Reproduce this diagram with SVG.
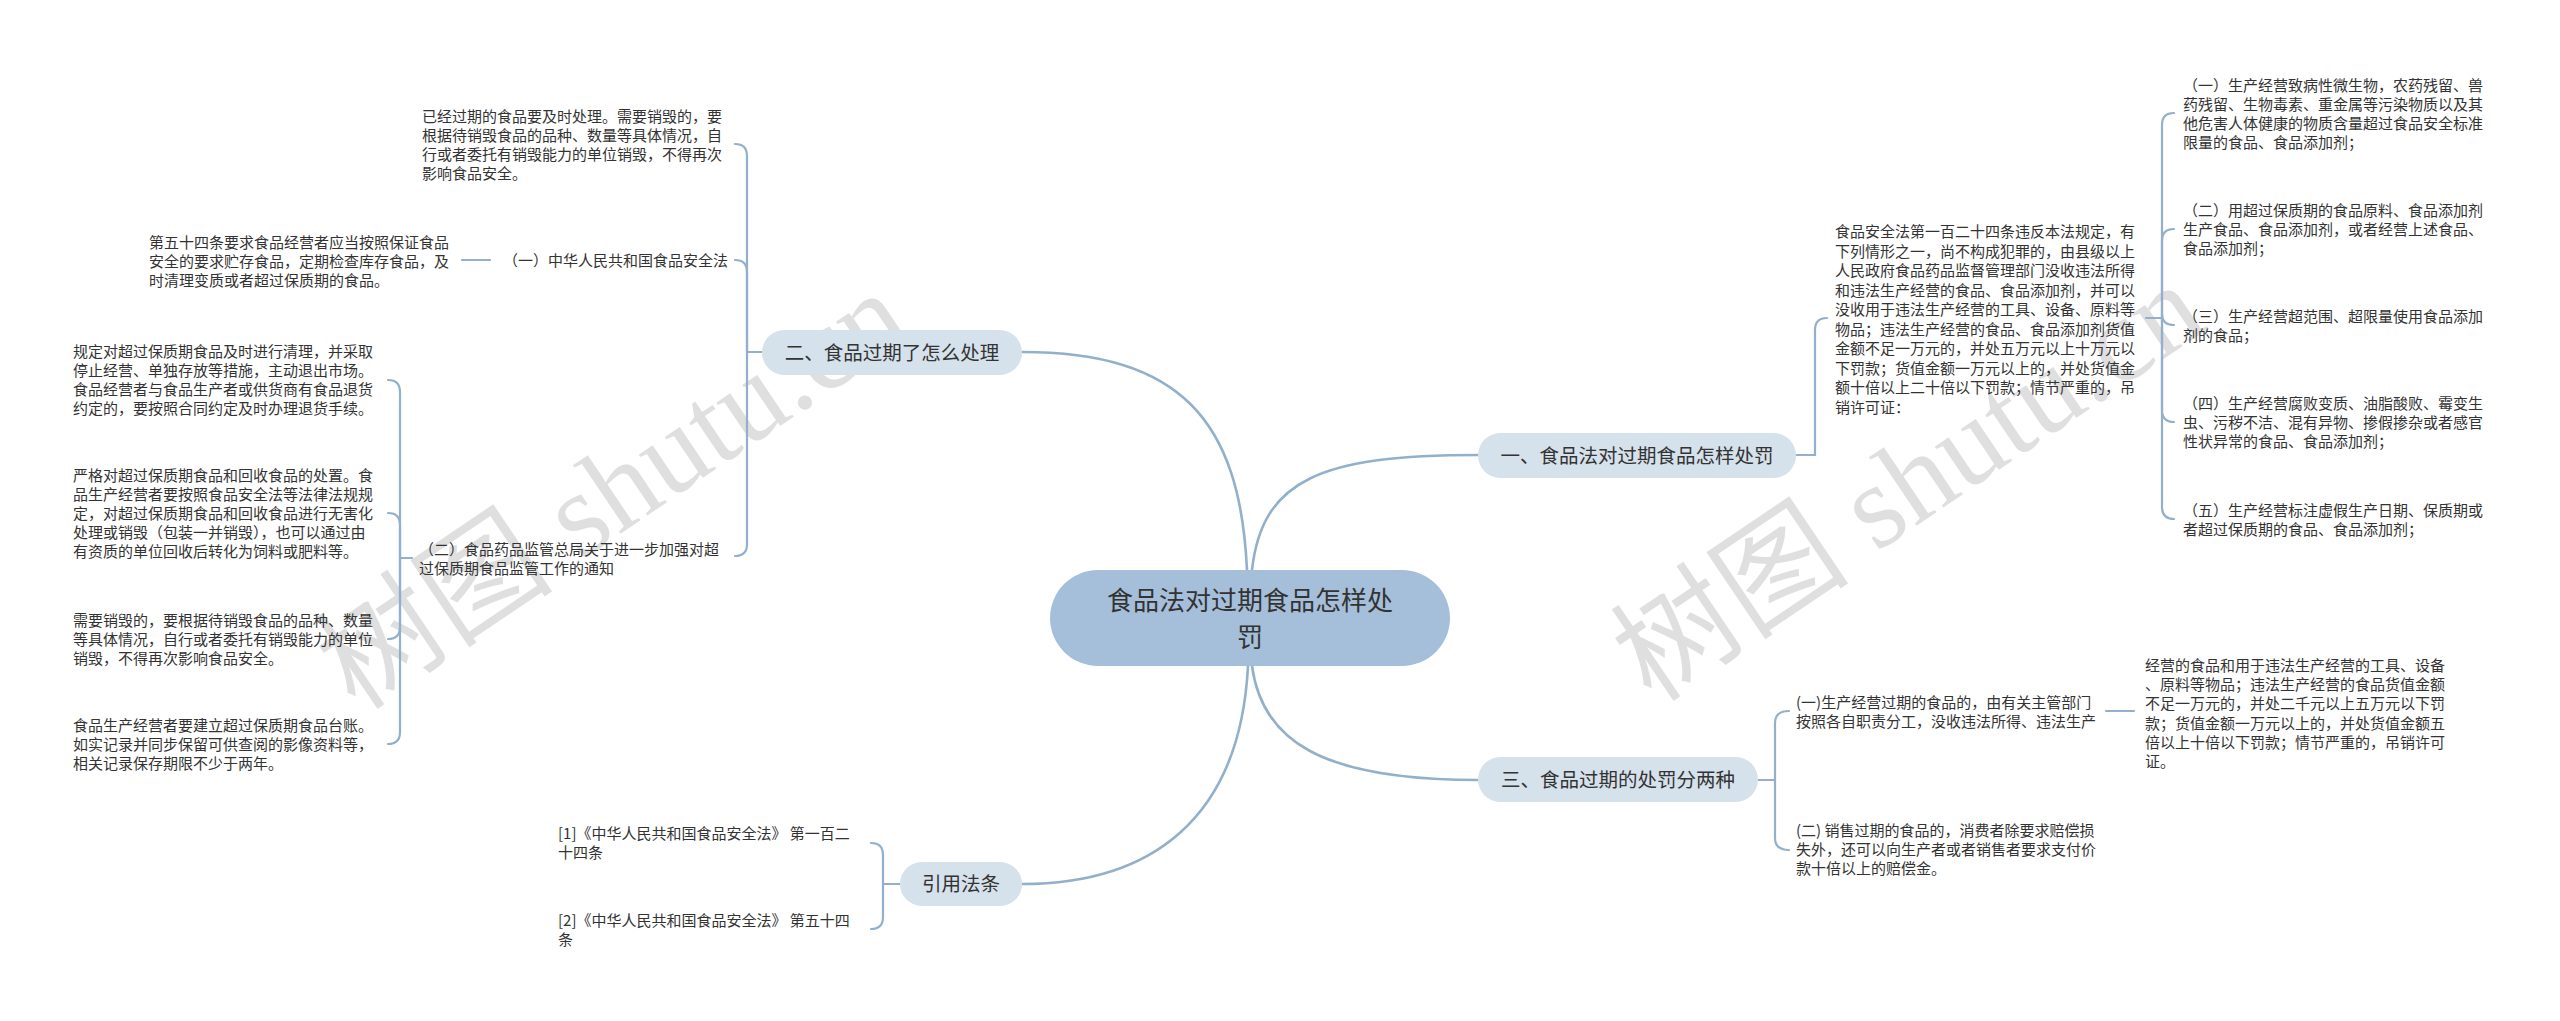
<svg xmlns="http://www.w3.org/2000/svg" width="2560" height="1021" viewBox="0 0 2560 1021">
<style>
.t{font-family:"Noto Sans CJK SC","Noto Sans",sans-serif;font-size:15px;fill:#333}
.b{font-family:"Noto Sans CJK SC","Noto Sans",sans-serif;font-size:19.5px;fill:#333;text-anchor:middle}
.c{font-family:"Noto Sans CJK SC","Noto Sans",sans-serif;font-size:26px;fill:#333;text-anchor:middle}
.ln{fill:none;stroke:#93b0cb;stroke-width:2.2;stroke-linecap:round}
.mn{fill:none;stroke:#93b0cb;stroke-width:2.6;stroke-linecap:round}
.bn{fill:#d5e1eb}
.wm{font-family:"Liberation Serif","Noto Sans CJK SC",serif;font-size:120px;fill:#000;opacity:0.12}
</style>
<rect width="2560" height="1021" fill="#fff"/>

<g id="watermarks">
<text class="wm" transform="translate(356,712) rotate(-34)">树图 shutu.cn</text>
<text class="wm" transform="translate(1652,704) rotate(-34)">树图 shutu.cn</text>
</g>

<g id="connectors">
<path class="mn" d="M1247,570 C1240,420 1180,352 1022,352"/>
<path class="mn" d="M1252,570 C1262,480 1320,455 1478,455"/>
<path class="mn" d="M1252,666 C1262,740 1320,780 1478,780"/>
<path class="mn" d="M1248,666 C1240,820 1150,884 1022,884"/>
<path class="ln" d="M762,352 H747"/>
<path class="ln" d="M747,352 V156 Q747,144 735,144"/>
<path class="ln" d="M747,352 V272 Q747,260 735,260"/>
<path class="ln" d="M747,352 V544 Q747,556 735,556"/>
<path class="ln" d="M462,260 H490"/>
<path class="ln" d="M412,558 H400"/>
<path class="ln" d="M400,558 V392 Q400,380 388,380"/>
<path class="ln" d="M400,558 V525 Q400,513 388,513"/>
<path class="ln" d="M400,558 V627 Q400,639 388,639"/>
<path class="ln" d="M400,558 V732 Q400,744 388,744"/>
<path class="ln" d="M1796,455 H1815 V330 Q1815,318 1827,318"/>
<path class="ln" d="M2146,318 H2162"/>
<path class="ln" d="M2162,318 V125 Q2162,113 2174,113"/>
<path class="ln" d="M2162,318 V241 Q2162,229 2174,229"/>
<path class="ln" d="M2162,318 V314 Q2162,325 2174,325"/>
<path class="ln" d="M2162,318 V410 Q2162,422 2174,422"/>
<path class="ln" d="M2162,318 V507 Q2162,519 2174,519"/>
<path class="ln" d="M1758,780 H1775"/>
<path class="ln" d="M1775,780 V723 Q1775,711 1789,711"/>
<path class="ln" d="M1775,780 V838 Q1775,850 1789,850"/>
<path class="ln" d="M2106,711 H2134"/>
<path class="ln" d="M900,884 H883"/>
<path class="ln" d="M883,884 V855 Q883,843 871,843"/>
<path class="ln" d="M883,884 V917 Q883,929 871,929"/>
</g>

<g id="root">
<rect x="1050" y="570" width="400" height="96" rx="48" fill="#a5bfda"/>
<text class="c" x="1250" y="610">食品法对过期食品怎样处</text>
<text class="c" x="1250" y="647">罚</text>
</g>

<g id="n2">
<rect class="bn" x="762" y="330" width="260" height="45" rx="22.5"/>
<text class="b" x="892" y="360">二、食品过期了怎么处理</text>
</g>
<g id="n1">
<rect class="bn" x="1478" y="433" width="318" height="45" rx="22.5"/>
<text class="b" x="1637" y="463">一、食品法对过期食品怎样处罚</text>
</g>
<g id="n3">
<rect class="bn" x="1478" y="757" width="280" height="45" rx="22.5"/>
<text class="b" x="1618" y="787">三、食品过期的处罚分两种</text>
</g>
<g id="n4">
<rect class="bn" x="900" y="862" width="122" height="44" rx="22"/>
<text class="b" x="961" y="891">引用法条</text>
</g>

<g id="n2-1">
<text class="t"><tspan x="422" y="122">已经过期的食品要及时处理。需要销毁的，要</tspan><tspan x="422" y="141">根据待销毁食品的品种、数量等具体情况，自</tspan><tspan x="422" y="160">行或者委托有销毁能力的单位销毁，不得再次</tspan><tspan x="422" y="179">影响食品安全。</tspan></text>
</g>
<g id="n2-2">
<text class="t" x="503" y="266">（一）中华人民共和国食品安全法</text>
</g>
<g id="n2-2-1">
<text class="t"><tspan x="149" y="248">第五十四条要求食品经营者应当按照保证食品</tspan><tspan x="149" y="267">安全的要求贮存食品，定期检查库存食品，及</tspan><tspan x="149" y="286">时清理变质或者超过保质期的食品。</tspan></text>
</g>
<g id="n2-3">
<text class="t"><tspan x="419" y="555">（二）食品药品监管总局关于进一步加强对超</tspan><tspan x="419" y="574">过保质期食品监管工作的通知</tspan></text>
</g>
<g id="n2-3-1">
<text class="t"><tspan x="73" y="357">规定对超过保质期食品及时进行清理，并采取</tspan><tspan x="73" y="376">停止经营、单独存放等措施，主动退出市场。</tspan><tspan x="73" y="395">食品经营者与食品生产者或供货商有食品退货</tspan><tspan x="73" y="414">约定的，要按照合同约定及时办理退货手续。</tspan></text>
</g>
<g id="n2-3-2">
<text class="t"><tspan x="73" y="481">严格对超过保质期食品和回收食品的处置。食</tspan><tspan x="73" y="500">品生产经营者要按照食品安全法等法律法规规</tspan><tspan x="73" y="519">定，对超过保质期食品和回收食品进行无害化</tspan><tspan x="73" y="538">处理或销毁（包装一并销毁），也可以通过由</tspan><tspan x="73" y="557">有资质的单位回收后转化为饲料或肥料等。</tspan></text>
</g>
<g id="n2-3-3">
<text class="t"><tspan x="73" y="626">需要销毁的，要根据待销毁食品的品种、数量</tspan><tspan x="73" y="645">等具体情况，自行或者委托有销毁能力的单位</tspan><tspan x="73" y="664">销毁，不得再次影响食品安全。</tspan></text>
</g>
<g id="n2-3-4">
<text class="t"><tspan x="73" y="731">食品生产经营者要建立超过保质期食品台账。</tspan><tspan x="73" y="750">如实记录并同步保留可供查阅的影像资料等，</tspan><tspan x="73" y="769">相关记录保存期限不少于两年。</tspan></text>
</g>

<g id="n1-1">
<text class="t"><tspan x="1835" y="237">食品安全法第一百二十四条违反本法规定，有</tspan><tspan x="1835" y="256.5">下列情形之一，尚不构成犯罪的，由县级以上</tspan><tspan x="1835" y="276">人民政府食品药品监督管理部门没收违法所得</tspan><tspan x="1835" y="295.5">和违法生产经营的食品、食品添加剂，并可以</tspan><tspan x="1835" y="315">没收用于违法生产经营的工具、设备、原料等</tspan><tspan x="1835" y="334.5">物品；违法生产经营的食品、食品添加剂货值</tspan><tspan x="1835" y="354">金额不足一万元的，并处五万元以上十万元以</tspan><tspan x="1835" y="373.5">下罚款；货值金额一万元以上的，并处货值金</tspan><tspan x="1835" y="393">额十倍以上二十倍以下罚款；情节严重的，吊</tspan><tspan x="1835" y="412.5">销许可证：</tspan></text>
</g>
<g id="n1-1-1">
<text class="t"><tspan x="2183" y="91">（一）生产经营致病性微生物，农药残留、兽</tspan><tspan x="2183" y="110">药残留、生物毒素、重金属等污染物质以及其</tspan><tspan x="2183" y="129">他危害人体健康的物质含量超过食品安全标准</tspan><tspan x="2183" y="148">限量的食品、食品添加剂；</tspan></text>
</g>
<g id="n1-1-2">
<text class="t"><tspan x="2183" y="216">（二）用超过保质期的食品原料、食品添加剂</tspan><tspan x="2183" y="235">生产食品、食品添加剂，或者经营上述食品、</tspan><tspan x="2183" y="254">食品添加剂；</tspan></text>
</g>
<g id="n1-1-3">
<text class="t"><tspan x="2183" y="322">（三）生产经营超范围、超限量使用食品添加</tspan><tspan x="2183" y="341">剂的食品；</tspan></text>
</g>
<g id="n1-1-4">
<text class="t"><tspan x="2183" y="409">（四）生产经营腐败变质、油脂酸败、霉变生</tspan><tspan x="2183" y="428">虫、污秽不洁、混有异物、掺假掺杂或者感官</tspan><tspan x="2183" y="447">性状异常的食品、食品添加剂；</tspan></text>
</g>
<g id="n1-1-5">
<text class="t"><tspan x="2183" y="516">（五）生产经营标注虚假生产日期、保质期或</tspan><tspan x="2183" y="535">者超过保质期的食品、食品添加剂；</tspan></text>
</g>

<g id="n3-1">
<text class="t"><tspan x="1796" y="708">(一)生产经营过期的食品的，由有关主管部门</tspan><tspan x="1796" y="727">按照各自职责分工，没收违法所得、违法生产</tspan></text>
</g>
<g id="n3-1-1">
<text class="t"><tspan x="2145" y="671">经营的食品和用于违法生产经营的工具、设备</tspan><tspan x="2145" y="690">、原料等物品；违法生产经营的食品货值金额</tspan><tspan x="2145" y="709">不足一万元的，并处二千元以上五万元以下罚</tspan><tspan x="2145" y="729">款；货值金额一万元以上的，并处货值金额五</tspan><tspan x="2145" y="748">倍以上十倍以下罚款；情节严重的，吊销许可</tspan><tspan x="2145" y="767">证。</tspan></text>
</g>
<g id="n3-2">
<text class="t"><tspan x="1796" y="836">(二) 销售过期的食品的，消费者除要求赔偿损</tspan><tspan x="1796" y="855">失外，还可以向生产者或者销售者要求支付价</tspan><tspan x="1796" y="874">款十倍以上的赔偿金。</tspan></text>
</g>

<g id="n4-1">
<text class="t"><tspan x="558" y="839">[1]《中华人民共和国食品安全法》 第一百二</tspan><tspan x="558" y="858">十四条</tspan></text>
</g>
<g id="n4-2">
<text class="t"><tspan x="558" y="926">[2]《中华人民共和国食品安全法》 第五十四</tspan><tspan x="558" y="945">条</tspan></text>
</g>
</svg>
